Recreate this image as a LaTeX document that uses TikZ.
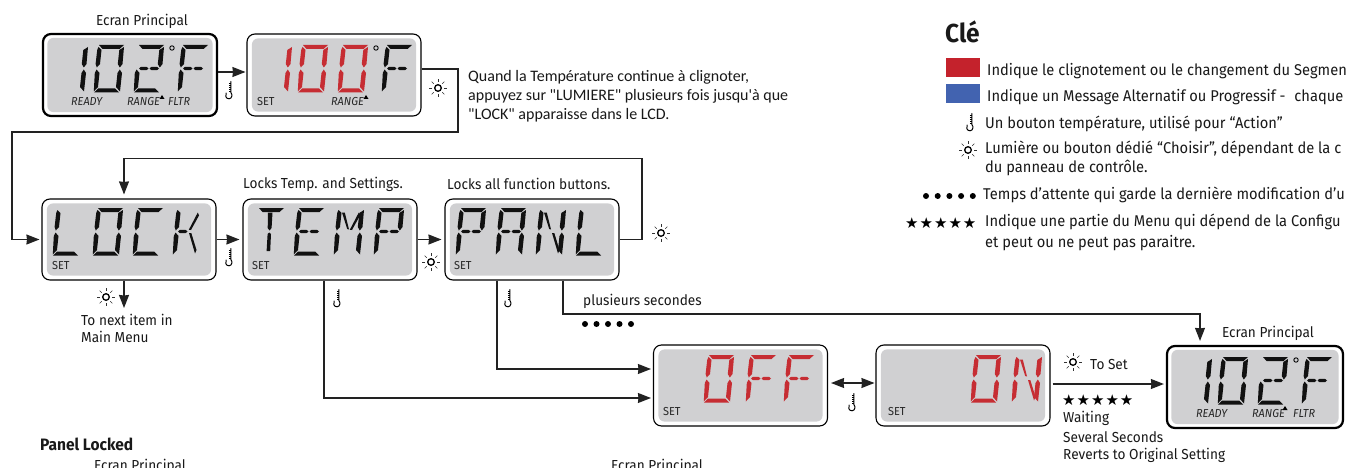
\documentclass[tikz,border=0pt]{standalone}
\usepackage{fontspec}
\setmainfont{Fira Sans}[FakeStretch=0.94]
\newfontfamily\parafont{Carlito}
\newfontfamily\symfont{DejaVu Sans}
\usetikzlibrary{arrows.meta,calc}
\definecolor{lcdgray}{HTML}{D0D0D2}
\definecolor{segred}{HTML}{C62D33}
\definecolor{segblk}{HTML}{111111}
\definecolor{keyred}{HTML}{C4222C}
\definecolor{keyblue}{HTML}{4263B0}
\definecolor{linegray}{HTML}{222222}
\def\sega{(6,0)--(31,0)--(26.5,4)--(9.5,4)--cycle}
\def\segd{(1,47.5)--(26,47.5)--(22,43.5)--(5,43.5)--cycle}
\def\segf{(5.5,2)--(8.5,5)--(7,19)--(3.8,22.5)--(2.6,19)--(4.2,5)--cycle}
\def\segb{(31,2)--(29.5,19)--(26.8,22.5)--(24.8,19)--(26.3,5)--cycle}
\def\sege{(3.5,24.5)--(6.5,28)--(5,42)--(0.8,46.5)--(1.8,28)--cycle}
\def\segc{(26.8,24.5)--(29,28)--(27,46.5)--(23,42)--(24.5,28)--cycle}
\def\segg{(6,23.5)--(8,21.8)--(13.5,21.8)--(15.5,23.5)--(13.5,25.2)--(8,25.2)--cycle}
\def\segh{(16.5,23.5)--(18.5,21.8)--(24,21.8)--(26,23.5)--(24,25.2)--(18.5,25.2)--cycle}
\def\segi{(15,4.5)--(19.5,4.5)--(18.6,20)--(16.5,22.5)--(14.7,20)--cycle}
\def\segj{(14.6,26)--(16.3,24.5)--(18,26)--(17.2,43)--(13.6,43)--cycle}
\def\segk{(9,4.5)--(11.8,4.5)--(16,21.5)--(14.2,21)--cycle}
\def\segl{(25.8,4.5)--(27,7.5)--(19,22)--(16.8,21.8)--cycle}
\def\segn{(17,25)--(19.3,25)--(24.5,42)--(23,45.5)--cycle}
\newcommand{\lcdchar}[4]{%
  \begin{scope}[shift={(#1,#2)}]
    \foreach \s in {#4} {%
      \expandafter\let\expandafter\thisseg\csname seg\s\endcsname
      \fill[#3] \thisseg;}
  \end{scope}}
\newcommand{\lcdbox}[4]{% name, cx, cy, style
  \node[#4] (#1) at (#2,#3) {};
  \fill[lcdgray,rounded corners=6pt]
    ($(#1.south west)+(5.5,-5)$) rectangle ($(#1.north east)+(-5.5,5)$);}
\newcommand{\sunicon}[2]{%
  \begin{scope}[shift={(#1,#2)}]
    \draw[line width=1.3pt,black] (0,0) circle (3.3pt);
    \foreach \a in {0,45,...,315}
      \draw[line width=.6pt,black!80] (\a:6pt) -- (\a:9pt);
  \end{scope}}
\newcommand{\thermo}[2]{%
  \begin{scope}[shift={(#1,#2)}]
    \draw[line width=1pt,black,line cap=round]
      (1.8,-8.5) -- (1.8,2.5) .. controls (3.5,4) and (3.5,8.5) .. (0,8.8)
      .. controls (-3.5,8.8) and (-4,5) .. (-2.8,3);
    \draw[line width=.7pt,black] (-.2,-7) -- (1.8,-7) (-.2,-5) -- (1.8,-5) (-.2,-3) -- (1.8,-3)
      (-.2,-1) -- (1.8,-1) (-.2,1) -- (1.8,1);
  \end{scope}}
\newcommand{\degmark}[2]{\draw[line width=.9pt,black,fill=lcdgray] (#1,#2) circle (2.2pt);}
\newcommand{\tri}[2]{\fill[black] (#1-2.5,#2+2) -- (#1,#2-2) -- (#1+2.5,#2+2) -- cycle;}
\newcommand{\dotrow}[3]{\foreach \i in {0,...,4} \fill[black] (#1+\i*#3,#2) circle (3pt);}
\newcommand{\lcdtemp}[4]{% x offset, y offset, colour of 3 digits, third digit seglist
  \lcdchar{#1+57}{#2+45}{#3}{b,c}
  \lcdchar{#1+93}{#2+45}{#3}{a,b,c,d,e,f}
  \lcdchar{#1+133}{#2+45}{#3}{#4}
  \lcdchar{#1+177}{#2+45}{segblk}{a,f,e,g,h}
  \degmark{#1+172}{#2+48}}
\tikzset{
  lcd/.style={draw=black,fill=white,line width=1.1pt,rounded corners=8pt,minimum width=174pt,minimum height=81pt,inner sep=0pt},
  lcdmain/.style={lcd,line width=2.2pt,minimum height=82pt},
  conn/.style={draw=linegray,line width=1.2pt},
  arr/.style={conn,-{Stealth[length=13pt,width=10pt,inset=0.5pt]}},
  arrb/.style={conn,{Stealth[length=13pt,width=10pt,inset=0.5pt]}-{Stealth[length=13pt,width=10pt,inset=0.5pt]}},
  lbl/.style={inner sep=0pt,anchor=west,font=\fontsize{14.5}{16}\selectfont,text=black!90},
  lbc/.style={lbl,anchor=center},
  lcdit/.style={inner sep=0pt,anchor=west,font=\itshape\fontsize{11.6}{12}\selectfont,text=black!85},
  lcdup/.style={inner sep=0pt,anchor=west,font=\fontsize{11.6}{12}\selectfont,text=black!85},
  para/.style={inner sep=0pt,anchor=west,font=\parafont\fontsize{16}{18}\selectfont,text=black!90},
  keyt/.style={lbl,font=\fontsize{15.6}{17}\selectfont},
  stars/.style={inner sep=0pt,anchor=west,font=\symfont\fontsize{15}{16}\selectfont},
}
\begin{document}
\begin{tikzpicture}[x=1pt,y=-1pt]
\useasboundingbox (0,0) rectangle (1346,468);
\clip (0,0) rectangle (1346,468);
\fill[white] (0,0) rectangle (1346,468);
% displays
\lcdbox{sa}{130}{75}{lcdmain}
\lcdbox{sb}{334}{75}{lcd,minimum height=82pt}
\lcdbox{lock}{129}{239.5}{lcd}
\lcdbox{temp}{330}{239.5}{lcd}
\lcdbox{panl}{532}{239.5}{lcd}
\lcdbox{off}{740.5}{385.5}{lcd}
\lcdbox{on}{963}{385.5}{lcd}
\lcdbox{sc}{1255}{387}{lcdmain,minimum width=176pt}
% digits
\lcdtemp{0}{0}{segblk}{a,b,g,h,e,d}
\lcdtemp{204}{0}{segred}{a,b,c,d,e,f}
\lcdtemp{1124}{312}{segblk}{a,b,g,h,e,d}
\lcdchar{52}{208}{segblk}{f,e,d}
\lcdchar{92}{208}{segblk}{a,b,c,d,e,f}
\lcdchar{132}{208}{segblk}{a,f,e,d}
\lcdchar{172}{208}{segblk}{f,e,g,l,n}
\lcdchar{253}{208}{segblk}{a,i,j}
\lcdchar{293}{208}{segblk}{a,d,f,e,g,h}
\lcdchar{333}{208}{segblk}{f,e,b,c,k,l}
\lcdchar{373}{208}{segblk}{a,f,b,e,g,h}
\lcdchar{455}{208}{segblk}{a,f,b,e,g,h}
\lcdchar{495}{208}{segblk}{a,f,b,e,c,g,h}
\lcdchar{535}{208}{segblk}{f,e,b,c,k,n}
\lcdchar{575}{208}{segblk}{f,e,d}
\lcdchar{703}{355}{segred}{a,b,c,d,e,f}
\lcdchar{745}{355}{segred}{a,f,e,g,h}
\lcdchar{783}{355}{segred}{a,f,e,g,h}
\lcdchar{970}{355}{segred}{a,b,c,d,e,f}
\lcdchar{1011}{355}{segred}{f,e,b,c,k,n}
% small LCD labels
\node[lcdit] (r1) at (71,102) {READY};
\node[lcdit] (g1) at (127,102) {RANGE};
\node[lcdit] (f1) at (168,102) {FLTR};
\tri{162}{97}
\node[lcdup] (s2) at (257,102) {SET};
\node[lcdit] (g2) at (331,102) {RANGE};
\tri{366}{97}
\node[lcdup] (s3) at (52,266) {SET};
\node[lcdup] (s4) at (252,266) {SET};
\node[lcdup] (s5) at (454,266) {SET};
\node[lcdup] (s6) at (663,412) {SET};
\node[lcdup] (s7) at (888,412) {SET};
\node[lcdit] (r3) at (1196,413) {READY};
\node[lcdit] (g3) at (1252,413) {RANGE};
\node[lcdit] (f3) at (1293,413) {FLTR};
\tri{1285}{408}
% free corners
\coordinate (c1) at (458,132);
\coordinate (c2) at (12,132);
\coordinate (c3) at (642,158.5);
\coordinate (c4) at (124,158.5);
\coordinate (c5) at (1200,314);
\coordinate (c6) at (124,308);
\coordinate (c7) at (324,398);
\coordinate (c8) at (497,369);
\coordinate (c9) at (563,314);
% connectors
\draw[arr,shorten >=1pt] ([yshift=3pt]sa.east) -- ([yshift=3pt]sb.west);
\draw[arr,shorten >=2pt] ([yshift=6pt]sb.east) -| (c1) -- (c2) |- (lock.west);
\draw[arr,shorten >=4pt] (panl.east) -| (c3) -- (c4) -- (lock.north -| c4);
\draw[arr,shorten >=3pt] (lock.east) -- (temp.west);
\draw[arr,shorten >=3pt] (temp.east) -- (panl.west);
\draw[arr] (lock.south -| c6) -- (c6);
\draw[arr,shorten >=2pt] (temp.south -| c7) -- (c7) -- ([yshift=-12.5pt]off.west);
\draw[arr,shorten >=2pt] (panl.south -| c8) -- (c8) -- ([yshift=16.5pt]off.west);
\draw[arr,shorten >=4pt] (panl.south -| c9) -- (c9) -- (c5) -- (sc.north -| c5);
\draw[arrb,shorten <=3pt,shorten >=1pt] ([yshift=2.5pt]off.east) -- ([yshift=2.5pt]on.west);
\draw[arr,shorten <=2pt,shorten >=2pt] ([yshift=1.5pt]on.east) -- ([yshift=1.5pt]on.east -| sc.west);
% icons
\thermo{229}{90}
\sunicon{438}{88}
\thermo{229}{257}
\sunicon{431}{262}
\sunicon{661}{233}
\sunicon{106}{297}
\thermo{337}{298}
\thermo{508}{298}
\thermo{852}{402}
\sunicon{1073}{362}
% labels
\node[lbc] (t1) at (142,21) {Ecran Principal};
\node[lbc] (t2) at (1268,333) {Ecran Principal};
\node[lbc] (t3) at (140,466) {Ecran Principal};
\node[lbc] (t4) at (657,466) {Ecran Principal};
\node[lbl] (t5) at (243,184) {Locks Temp. and Settings.};
\node[lbl] (t6) at (447,184) {Locks all function buttons.};
\node[lbl] (t7) at (81,320) {To next item in};
\node[lbl] (t8) at (81,337) {Main Menu};
\node[lbl] (t9) at (583,301) {plusieurs secondes};
\node[lbl,font=\bfseries\fontsize{16.5}{18}\selectfont] (t10) at (40,444) {Panel Locked};
\node[lbl] (t11) at (1090,365) {To Set};
\node[stars] (t12) at (1062,400) {★\hspace{1pt}★\hspace{1pt}★\hspace{1pt}★\hspace{1pt}★};
\node[lbl] (t13) at (1063,418) {Waiting};
\node[lbl] (t14) at (1063,437) {Several Seconds};
\node[lbl] (t15) at (1063,455) {Reverts to Original Setting};
\dotrow{585}{324}{11.5}
\node[para] (p1) at (468,77) {Quand la Température continue à  clignoter,};
\node[para] (p2) at (468,96) {appuyez sur "LUMIERE" plusieurs fois jusqu'à que};
\node[para] (p3) at (468,115) {"LOCK" apparaisse dans le LCD.};
% key
\node[lbl,font=\bfseries\fontsize{26}{28}\selectfont] (k0) at (945,32) {Clé};
\fill[keyred] (946,58) rectangle (980,77);
\fill[keyblue] (946,84) rectangle (980,103);
\node[keyt] (k1) at (987,71) {Indique le clignotement ou le changement du Segmen};
\node[keyt] (k2) at (987,97) {Indique un Message Alternatif ou Progressif -\hspace{5pt} chaque};
\thermo{970}{122}
\node[keyt] (k3) at (985,124) {Un bouton température, utilisé pour “Action”};
\sunicon{968}{150}
\node[keyt] (k4) at (985,149) {Lumière ou bouton dédié “Choisir”, dépendant de la c};
\node[keyt] (k5) at (985,168) {du panneau de contrôle.};
\dotrow{926}{196}{11.7}
\node[keyt] (k6) at (983,195) {Temps d'attente qui garde la dernière modification d'u};
\node[stars] (k7) at (905,223) {★\hspace{1pt}★\hspace{1pt}★\hspace{1pt}★\hspace{1pt}★};
\node[keyt] (k8) at (985,222) {Indique une partie du Menu qui dépend de la Configu};
\node[keyt] (k9) at (985,243) {et peut ou ne peut pas paraitre.};
\end{tikzpicture}
\end{document}
